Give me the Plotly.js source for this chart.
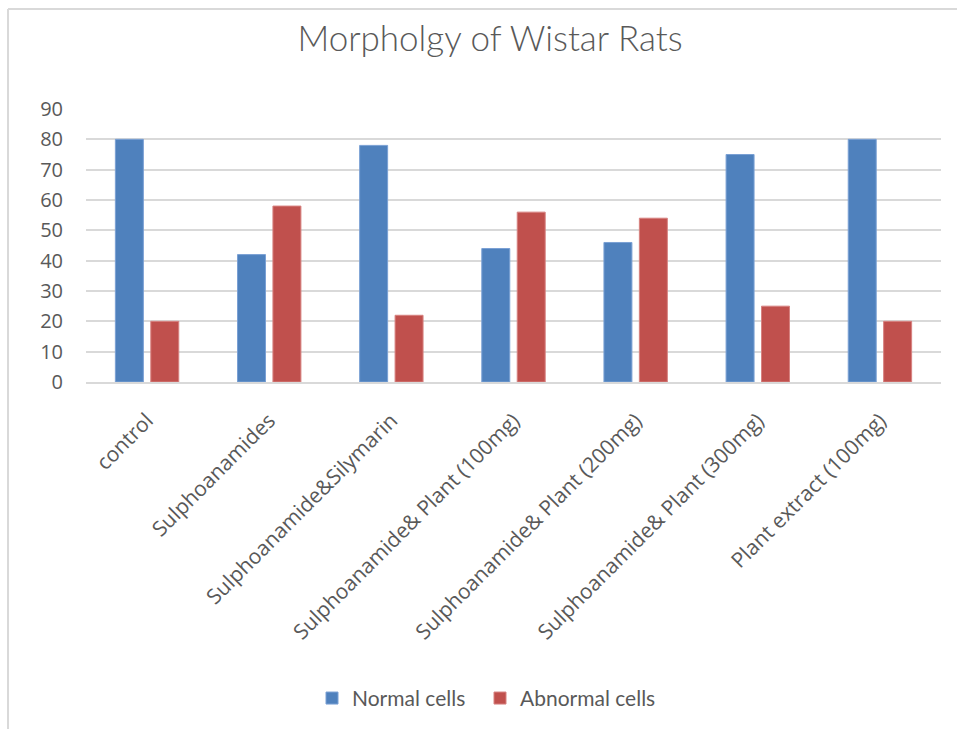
<!DOCTYPE html>
<html>
<head>
<meta charset="utf-8">
<script src="https://cdn.plot.ly/plotly-3.0.1.min.js"></script>
<style>
  html, body { margin: 0; padding: 0; background: #fff; }
  #chart { width: 957px; height: 729px; }
</style>
</head>
<body>
<div id="chart"></div>
<script>
const categories = [
  "control",
  "Sulphoanamides",
  "Sulphoanamide&Silymarin",
  "Sulphoanamide& Plant (100mg)",
  "Sulphoanamide& Plant (200mg)",
  "Sulphoanamide& Plant (300mg)",
  "Plant extract (100mg)"
];
const normalCells = [80, 42, 78, 44, 46, 75, 80];
const abnormalCells = [20, 58, 22, 56, 54, 25, 20];
const yTicks = [0, 10, 20, 30, 40, 50, 60, 70, 80, 90];

const traces = [
  {
    type: "bar", name: "Normal cells", x: categories, y: normalCells,
    marker: { color: "#4f81bd", line: { color: "#7aa0d4", width: 1 } },
    hoverinfo: "x+y+name", legend: "legend"
  },
  {
    type: "bar", name: "Abnormal cells", x: categories, y: abnormalCells,
    marker: { color: "#c0504d", line: { color: "#d78280", width: 1 } },
    hoverinfo: "x+y+name", legend: "legend2"
  }
];

const legendCommon = {
  orientation: "h", xref: "container", yref: "container",
  xanchor: "left", y: 0.042, yanchor: "middle",
  font: { family: "Lato, sans-serif", size: 21, color: "#595959" },
  itemwidth: 30, bgcolor: "rgba(0,0,0,0)"
};

const layout = {
  width: 957, height: 729,
  margin: { l: 86, r: 16, t: 109, b: 347 },
  paper_bgcolor: "#ffffff", plot_bgcolor: "#ffffff",
  barmode: "group", bargap: 0.42, bargroupgap: 0.21,
  font: { family: "Open Sans, sans-serif", color: "#595959" },
  title: {
    text: "Morpholgy of Wistar Rats",
    font: { family: "Lato, sans-serif", size: 35, color: "#595959", weight: 300 },
    xref: "container", x: 0.512, xanchor: "center",
    yref: "container", y: 0.947, yanchor: "middle"
  },
  xaxis: {
    type: "category", tickangle: -45,
    tickfont: { size: 21, color: "#595959" },
    showgrid: false, showline: true, linecolor: "#d9d9d9", linewidth: 2,
    ticks: "", ticklabelstandoff: 16, zeroline: false
  },
  yaxis: {
    range: [0, 90], tickvals: yTicks, ticktext: yTicks.map(String),
    tickfont: { size: 20, color: "#595959" },
    showgrid: true, gridcolor: "#d9d9d9", gridwidth: 2,
    zeroline: false, showline: false, ticks: "", ticklabelstandoff: 22
  },
  showlegend: true,
  legend: Object.assign({}, legendCommon, { x: 312 / 957 }),
  legend2: Object.assign({}, legendCommon, { x: 480 / 957 }),
  shapes: [
    { type: "line", xref: "paper", yref: "paper", x0: -0.0912, x1: 1.03, y0: 1.366, y1: 1.366,
      line: { color: "#d9d9d9", width: 2 } },
    { type: "line", xref: "paper", yref: "paper", x0: -0.0912, x1: -0.0912, y0: 1.366, y1: -1.3,
      line: { color: "#d9d9d9", width: 2 } }
  ]
};

Plotly.newPlot("chart", traces, layout, { displayModeBar: false, responsive: false });
</script>
</body>
</html>
